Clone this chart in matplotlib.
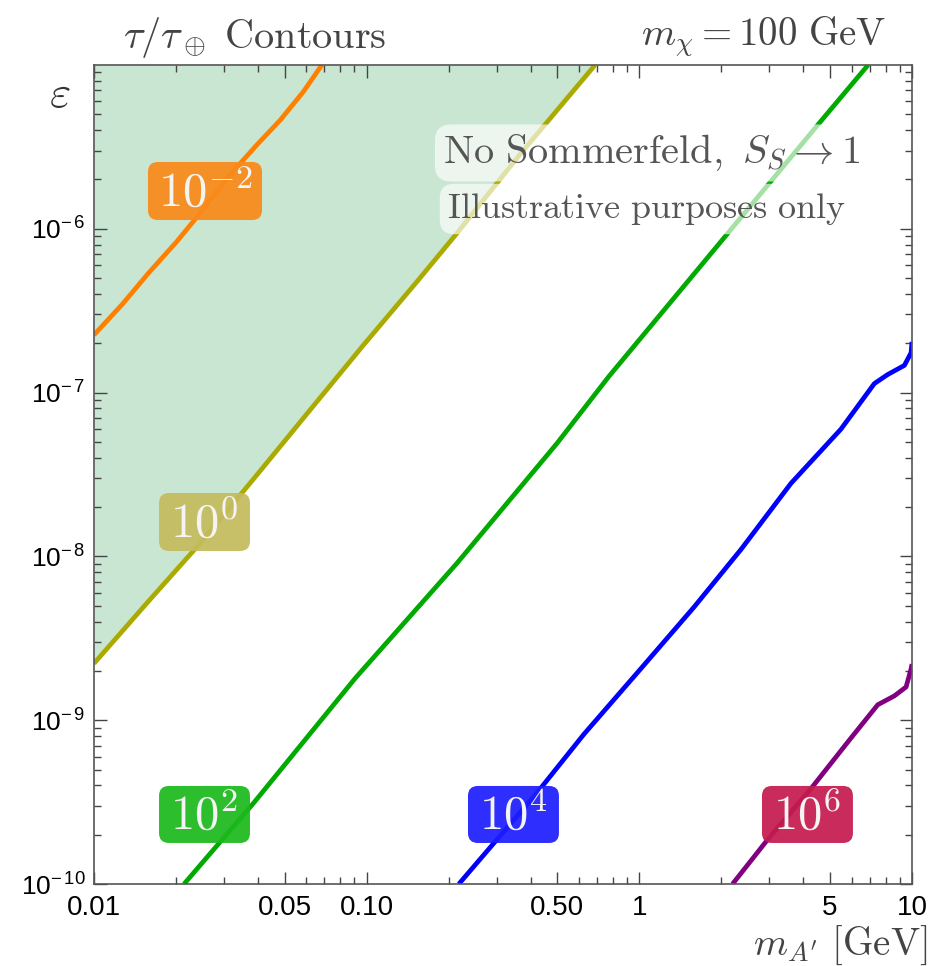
import matplotlib
matplotlib.use('Agg')
import matplotlib.pyplot as plt
from matplotlib.patches import FancyBboxPatch
from matplotlib.ticker import FixedLocator, NullFormatter, FixedFormatter

plt.rcParams['font.family'] = ['Liberation Sans', 'DejaVu Sans']
plt.rcParams['mathtext.fontset'] = 'custom'
plt.rcParams['mathtext.rm'] = 'Liberation Sans'
plt.rcParams['mathtext.it'] = 'Liberation Sans:italic'

# ---------------- data ----------------
m_orange = [0.01, 0.01264, 0.01582, 0.02009, 0.02448, 0.03069, 0.03954, 0.04819, 0.0586, 0.0685]
eps_orange = [2.25e-7, 3.43e-7, 5.35e-7, 8.33e-7, 1.244e-6, 2.03e-6, 3.25e-6, 4.61e-6, 6.87e-6, 1.0e-5]

m_olive = [0.01, 0.0156, 0.02448, 0.03955, 0.0620, 0.0973, 0.1528, 0.2143, 0.3627, 0.688]
eps_olive = [2.22e-9, 5.17e-9, 1.20e-8, 3.14e-8, 7.83e-8, 1.95e-7, 4.75e-7, 9.39e-7, 2.81e-6, 1.0e-5]

m_green = [0.02139, 0.03842, 0.0907, 0.2143, 0.4989, 0.7717, 1.772, 4.616, 6.9]
eps_green = [1.0e-10, 3.11e-10, 1.80e-9, 9.08e-9, 4.90e-8, 1.25e-7, 6.61e-7, 4.51e-6, 1.0e-5]

m_blue = [0.2178, 0.4224, 0.6262, 1.012, 1.588, 2.367, 3.597, 5.491, 7.275, 8.150, 9.378, 9.924, 10.0]
eps_blue = [1.0e-10, 3.62e-10, 8.21e-10, 2.06e-9, 4.91e-9, 1.11e-8, 2.79e-8, 5.99e-8, 1.135e-7, 1.29e-7, 1.466e-7, 1.752e-7, 2.04e-7]

m_purple = [2.197, 2.954, 4.260, 5.976, 7.487, 8.614, 9.513, 9.924, 10.0]
eps_purple = [1.0e-10, 1.866e-10, 3.82e-10, 7.79e-10, 1.242e-9, 1.407e-9, 1.595e-9, 2.06e-9, 2.2e-9]

contour_labels = [r'$10^{-2}$', r'$10^{0}$', r'$10^{2}$', r'$10^{4}$', r'$10^{6}$']

x_ticks = [0.01, 0.05, 0.1, 0.5, 1, 5, 10]
x_ticklabels = ['0.01', '0.05', '0.10', '0.50', '1', '5', '10']
y_ticks = [1e-10, 1e-9, 1e-8, 1e-7, 1e-6]
y_ticklabels = [r'$10^{-\,10}$', r'$10^{-\,9}$', r'$10^{-\,8}$', r'$10^{-\,7}$', r'$10^{-\,6}$']

# ---------------- figure ----------------
fig = plt.figure(figsize=(9.35, 9.66), dpi=100)
ax = fig.add_axes([94/935, 1-884/966, 818/935, 819/966])
ax.set_xscale('log')
ax.set_yscale('log')
ax.set_xlim(0.01, 10)
ax.set_ylim(1e-10, 1e-5)

ax.fill_between(m_olive, eps_olive, 1e-5, color='#C9E6D3', lw=0, zorder=1)

lw = 3.4
for mm, ee, c in [(m_orange, eps_orange, '#FF8000'), (m_olive, eps_olive, '#AAAA00'),
                  (m_green, eps_green, '#00AA00'), (m_blue, eps_blue, '#0000FF'),
                  (m_purple, eps_purple, '#800080')]:
    ax.plot(mm, ee, color=c, lw=lw, zorder=2, solid_capstyle='butt', solid_joinstyle='round')

# contour label boxes (axes-fraction positions)
box_specs = [
    (0.066, 0.8107, 0.1394, 0.0709, '#F98A1A'),
    (0.0795, 0.4066, 0.1112, 0.0708, '#C4BC5E'),
    (0.0795, 0.0501, 0.1112, 0.0696, '#1DB91D'),
    (0.4572, 0.0501, 0.1112, 0.0696, '#1E1EFF'),
    (0.8166, 0.0501, 0.1112, 0.0696, '#C51B4F'),
]
for (bx, by, bw, bh, fc), lab in zip(box_specs, contour_labels):
    p = FancyBboxPatch((bx, by), bw, bh, boxstyle='round,pad=0,rounding_size=0.012',
                       transform=ax.transAxes, fc=fc, ec='none', alpha=0.93, zorder=3)
    ax.add_patch(p)
    ax.text(bx + bw/2, by + bh/2 - 0.003, lab, transform=ax.transAxes, ha='center', va='center',
            fontsize=35, color='#F4F4F4', math_fontfamily='cm', zorder=4)

# notes
ax.text((443-94)/818, (884-153)/819, r'$\mathrm{No\ Sommerfeld,}\ S_S \rightarrow 1$',
        transform=ax.transAxes, ha='left', va='center', fontsize=29, color='#555555',
        math_fontfamily='cm', zorder=5,
        bbox=dict(boxstyle='round,pad=0.2,rounding_size=0.4', fc='white', ec='none', alpha=0.65))
ax.text((447-94)/818, (884-209)/819, r'$\mathrm{Illustrative\ purposes\ only}$',
        transform=ax.transAxes, ha='left', va='center', fontsize=26, color='#555555',
        math_fontfamily='cm', zorder=5,
        bbox=dict(boxstyle='round,pad=0.2,rounding_size=0.4', fc='white', ec='none', alpha=0.65))

# ticks
ax.xaxis.set_major_locator(FixedLocator(x_ticks))
ax.xaxis.set_major_formatter(FixedFormatter(x_ticklabels))
ax.xaxis.set_minor_locator(FixedLocator([k*10.0**e for e in (-2, -1, 0) for k in range(2, 10) if k != 5]))
ax.xaxis.set_minor_formatter(NullFormatter())
ax.yaxis.set_major_locator(FixedLocator(y_ticks))
ax.yaxis.set_major_formatter(FixedFormatter(y_ticklabels))
ax.yaxis.set_minor_locator(FixedLocator([k*10.0**e for e in (-10, -9, -8, -7, -6) for k in range(2, 10)]))
ax.yaxis.set_minor_formatter(NullFormatter())
ax.tick_params(which='both', direction='in', top=True, right=True, color='#444444', width=1)
ax.tick_params(axis='x', which='major', length=9, labelsize=20, pad=8)
ax.tick_params(axis='y', which='major', length=9, labelsize=19, pad=6)
ax.tick_params(which='minor', length=5)
for s in ax.spines.values():
    s.set_color('#555555')
    s.set_linewidth(1.2)

# titles and axis labels
fig.text(255/935, 1-37/966, r'$\tau/\tau_\oplus\ \mathrm{Contours}$', ha='center', va='center',
         fontsize=29, color='#444444', math_fontfamily='cm')
fig.text(886/935, 1-37/966, r'$m_\chi = 100\ \mathrm{GeV}$', ha='right', va='center',
         fontsize=28, color='#444444', math_fontfamily='cm')
fig.text(60/935, 1-95/966, r'$\varepsilon$', ha='center', va='center',
         fontsize=33, color='#333333', math_fontfamily='cm')
fig.text(928/935, 1-955/966, r"$m_{A'}\ [\mathrm{GeV}]$", ha='right', va='baseline',
         fontsize=28, color='#444444', math_fontfamily='cm')

fig.savefig('out.png', dpi=100)
